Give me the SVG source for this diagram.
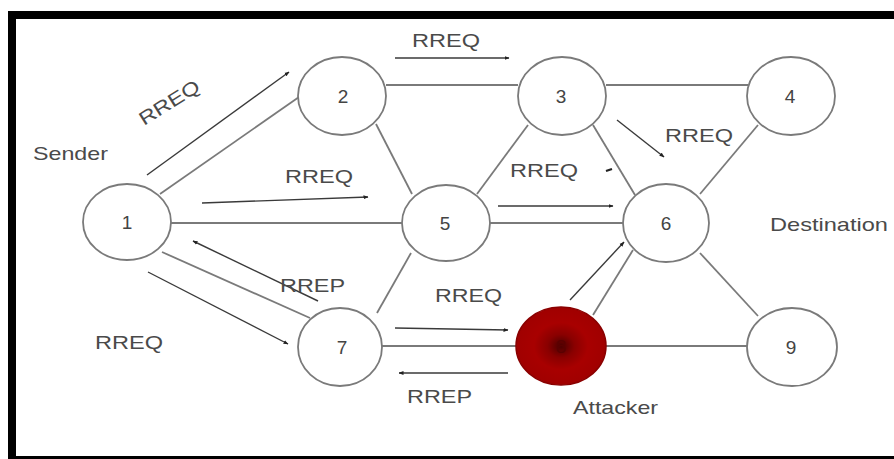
<svg xmlns="http://www.w3.org/2000/svg" width="894" height="459" viewBox="0 0 894 459">
<style>
.node{fill:#fff;stroke:#7a7a7a;stroke-width:1.8}
.edge{stroke:#7a7a7a;stroke-width:1.8;fill:none}
.arr{stroke:#3a3a3a;stroke-width:1.4;fill:none;marker-end:url(#ah)}
.lbl{font-family:"Liberation Sans",Arial,sans-serif;font-size:19px;fill:#4a4a4a}
.num{font-family:"Liberation Sans",Arial,sans-serif;font-size:19px;fill:#444;text-anchor:middle}
</style>
<defs>
<marker id="ah" viewBox="0 0 10 10" refX="9" refY="5" markerWidth="5" markerHeight="5" orient="auto" markerUnits="userSpaceOnUse">
<path d="M0,1 L10,5 L0,9 z" fill="#222"/>
</marker>
<radialGradient id="red" cx="50%" cy="50%" r="50%">
<stop offset="0" stop-color="#4a0000"/>
<stop offset="0.3" stop-color="#8a0000"/>
<stop offset="0.6" stop-color="#a80000"/>
<stop offset="1" stop-color="#a00000"/>
</radialGradient>
</defs>
<rect width="894" height="459" fill="#fff"/>
<g id="frame" fill="#000">
<rect x="8" y="11" width="886" height="8"/>
<rect x="8" y="11" width="8" height="448"/>
<rect x="8" y="456" width="886" height="3"/>
</g>
<g id="connectors">
<line class="edge" x1="160" y1="194" x2="299" y2="97"/>
<line class="edge" x1="171" y1="223" x2="402" y2="223"/>
<line class="edge" x1="162" y1="252" x2="310" y2="318"/>
<line class="edge" x1="386" y1="85" x2="518" y2="85"/>
<line class="edge" x1="606" y1="85" x2="748" y2="85"/>
<line class="edge" x1="376" y1="124" x2="412" y2="194"/>
<line class="edge" x1="528" y1="125" x2="477" y2="194"/>
<line class="edge" x1="593" y1="125" x2="635" y2="195"/>
<line class="edge" x1="758" y1="125" x2="700" y2="194"/>
<line class="edge" x1="490" y1="223" x2="623" y2="223"/>
<line class="edge" x1="411" y1="253" x2="377" y2="313"/>
<line class="edge" x1="633" y1="250" x2="593" y2="315"/>
<line class="edge" x1="700" y1="253" x2="758" y2="316"/>
<line class="edge" x1="382" y1="346" x2="516" y2="346"/>
<line class="edge" x1="606" y1="346" x2="748" y2="346"/>
<line class="arr" x1="147" y1="175" x2="289" y2="72"/>
<line class="arr" x1="202" y1="203" x2="368" y2="197"/>
<line class="arr" x1="395" y1="58" x2="509" y2="58"/>
<line class="arr" x1="617" y1="120" x2="664" y2="157"/>
<line class="arr" x1="498" y1="206" x2="613" y2="206"/>
<line class="arr" x1="570" y1="300" x2="624" y2="242"/>
<line class="arr" x1="318" y1="301" x2="193" y2="241"/>
<line class="arr" x1="148" y1="272" x2="288" y2="344"/>
<line class="arr" x1="395" y1="328" x2="508" y2="330"/>
<line class="arr" x1="508" y1="373" x2="399" y2="373"/>
<path d="M606,171 L612,169" stroke="#222" stroke-width="2.2" fill="none"/>
</g>
<g id="n1"><ellipse class="node" cx="127" cy="222" rx="44" ry="38"/><text class="num" x="127" y="229">1</text></g>
<g id="n2"><ellipse class="node" cx="342" cy="96" rx="44" ry="39"/><text class="num" x="343" y="103">2</text></g>
<g id="n3"><ellipse class="node" cx="562" cy="96" rx="44" ry="39"/><text class="num" x="561" y="103">3</text></g>
<g id="n4"><ellipse class="node" cx="791" cy="96" rx="44" ry="39"/><text class="num" x="790" y="103">4</text></g>
<g id="n5"><ellipse class="node" cx="446" cy="223" rx="44" ry="38"/><text class="num" x="445" y="230">5</text></g>
<g id="n6"><ellipse class="node" cx="666" cy="223" rx="43" ry="39"/><text class="num" x="666" y="230">6</text></g>
<g id="n7"><ellipse class="node" cx="340" cy="347" rx="42" ry="39"/><text class="num" x="342" y="354">7</text></g>
<g id="n8"><ellipse cx="561" cy="346" rx="45" ry="39" fill="url(#red)" stroke="#8a0000" stroke-width="1.5"/><text class="num" x="561" y="353" style="fill:#5a0000">8</text></g>
<g id="n9"><ellipse class="node" cx="792" cy="347" rx="45" ry="39"/><text class="num" x="791" y="354">9</text></g>
<g id="labels">
<text class="lbl" x="33" y="160" textLength="75" lengthAdjust="spacingAndGlyphs">Sender</text>
<text class="lbl" x="412" y="47" textLength="68" lengthAdjust="spacingAndGlyphs">RREQ</text>
<text class="lbl" transform="translate(169,102) rotate(-32)" x="-34" y="7" textLength="68" lengthAdjust="spacingAndGlyphs">RREQ</text>
<text class="lbl" x="285" y="183" textLength="68" lengthAdjust="spacingAndGlyphs">RREQ</text>
<text class="lbl" x="510" y="177" textLength="68" lengthAdjust="spacingAndGlyphs">RREQ</text>
<text class="lbl" x="665" y="142" textLength="68" lengthAdjust="spacingAndGlyphs">RREQ</text>
<text class="lbl" x="770" y="231" textLength="118" lengthAdjust="spacingAndGlyphs">Destination</text>
<text class="lbl" x="280" y="292" textLength="65" lengthAdjust="spacingAndGlyphs">RREP</text>
<text class="lbl" x="95" y="349" textLength="68" lengthAdjust="spacingAndGlyphs">RREQ</text>
<text class="lbl" x="435" y="302" textLength="67" lengthAdjust="spacingAndGlyphs">RREQ</text>
<text class="lbl" x="407" y="403" textLength="65" lengthAdjust="spacingAndGlyphs">RREP</text>
<text class="lbl" x="573" y="414" textLength="85" lengthAdjust="spacingAndGlyphs">Attacker</text>
</g>
</svg>
